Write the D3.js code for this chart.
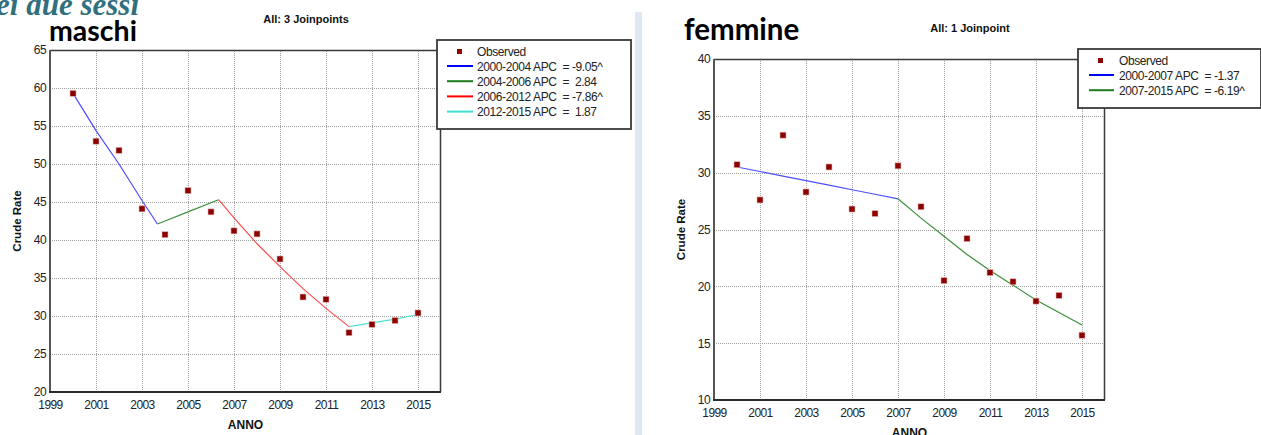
<!DOCTYPE html>
<html>
<head>
<meta charset="utf-8">
<script src="https://cdn.jsdelivr.net/npm/d3@7"></script>
<style>
  body { margin: 0; background: #fff; }
  svg { display: block; }
  text { font-family: "Liberation Sans", Arial, sans-serif; }
</style>
</head>
<body>
<svg id="chart" width="1261" height="435"></svg>
<script>
// Years of observation
const years = [2000, 2001, 2002, 2003, 2004, 2005, 2006, 2007, 2008, 2009, 2010, 2011, 2012, 2013, 2014, 2015];
const xTicks = [1999, 2001, 2003, 2005, 2007, 2009, 2011, 2013, 2015];

// Observed crude rates
const maleObserved   = [59.3, 53.0, 51.8, 44.1, 40.7, 46.5, 43.7, 41.2, 40.8, 37.5, 32.5, 32.2, 27.8, 28.9, 29.4, 30.4];
const femaleObserved = [30.7, 27.6, 33.3, 28.3, 30.5, 26.8, 26.4, 30.6, 27.0, 20.5, 24.2, 21.2, 20.4, 18.7, 19.2, 15.7];

// Joinpoint fitted segments [year, rate]
const maleSeg1 = [[2000, 59.3], [2001, 54.4], [2002, 50.0], [2003, 45.2], [2003.67, 42.1]];
const maleSeg2 = [[2003.67, 42.1], [2004, 42.5], [2005, 43.7], [2006, 44.9], [2006.33, 45.3]];
const maleSeg3 = [[2006.33, 45.3], [2007, 42.9], [2008, 39.5], [2009, 36.5], [2010, 33.6], [2011, 31.0], [2012, 28.6]];
const maleSeg4 = [[2012, 28.6], [2013, 29.1], [2014, 29.6], [2015, 30.2]];

const femaleSeg1 = [[2000, 30.5], [2001, 30.1], [2002, 29.7], [2003, 29.3], [2004, 28.9], [2005, 28.5], [2006, 28.1], [2007, 27.7]];
const femaleSeg2 = [[2007, 27.7], [2008, 26.0], [2009, 24.4], [2010, 22.8], [2011, 21.4], [2012, 20.1], [2013, 18.8], [2014, 17.7], [2015, 16.6]];

// Legend labels
const maleLegend   = ["2000-2004 APC  = -9.05^", "2004-2006 APC  =  2.84", "2006-2012 APC  = -7.86^", "2012-2015 APC  =  1.87"];
const femaleLegend = ["2000-2007 APC  = -1.37", "2007-2015 APC  = -6.19^"];

const maleTicks   = [20, 25, 30, 35, 40, 45, 50, 55, 60, 65];
const femaleTicks = [10, 15, 20, 25, 30, 35, 40];

const segColors = ["#0000ff", "#1e7b1e", "#ff0000", "#40e0d0"];
const lineColors = ["#4d4dff", "#3c8f3c", "#ff4d4d", "#4fe3d6"];

const svg = d3.select("#chart");

// Heading fragment at the very top, partly clipped by the page edge
svg.append("text")
  .attr("x", 139).attr("y", 15)
  .attr("text-anchor", "end")
  .style("font-family", "'Liberation Serif', 'DejaVu Serif', serif")
  .style("font-style", "italic").style("font-weight", "bold")
  .style("font-size", "31px").attr("fill", "#2f6f7e")
  .text("nei due sessi");

// Separator strip between the two panels
svg.append("rect")
  .attr("x", 635).attr("y", 12).attr("width", 7).attr("height", 423)
  .attr("fill", "#dfe7f1");

function panel(cfg) {
  const g = svg.append("g");
  const x = d3.scaleLinear().domain([1999, 2016]).range([cfg.left, cfg.right]);
  const y = d3.scaleLinear().domain(cfg.yDomain).range([cfg.bottom, cfg.top]);

  // Grid
  g.append("g")
    .attr("transform", `translate(0,${cfg.bottom})`)
    .call(d3.axisBottom(x).tickValues(xTicks.slice(1)).tickSize(-(cfg.bottom - cfg.top)).tickFormat(""))
    .call(a => a.select(".domain").remove())
    .call(a => a.selectAll("line").attr("stroke", "#a3a3a3").attr("stroke-dasharray", "1,1").attr("shape-rendering", "crispEdges"));
  g.append("g")
    .attr("transform", `translate(${cfg.left},0)`)
    .call(d3.axisLeft(y).tickValues(cfg.yTicks.slice(1)).tickSize(-(cfg.right - cfg.left)).tickFormat(""))
    .call(a => a.select(".domain").remove())
    .call(a => a.selectAll("line").attr("stroke", "#a3a3a3").attr("stroke-dasharray", "1,1").attr("shape-rendering", "crispEdges"));

  // Frame
  g.append("line").attr("x1", cfg.left).attr("x2", cfg.right).attr("y1", cfg.top + 0.5).attr("y2", cfg.top + 0.5)
    .attr("stroke", "#3a3a3a").attr("stroke-width", 1.3);
  g.append("line").attr("x1", cfg.right - 0.5).attr("x2", cfg.right - 0.5).attr("y1", cfg.top).attr("y2", cfg.bottom)
    .attr("stroke", "#3a3a3a").attr("stroke-width", 1.5);
  g.append("line").attr("x1", cfg.left).attr("x2", cfg.left).attr("y1", cfg.top).attr("y2", cfg.bottom + 1)
    .attr("stroke", "#555").attr("stroke-width", 2);
  g.append("line").attr("x1", cfg.left - 1).attr("x2", cfg.right).attr("y1", cfg.bottom).attr("y2", cfg.bottom)
    .attr("stroke", "#2a2a2a").attr("stroke-width", 2);

  // Tick labels
  g.append("g")
    .attr("transform", `translate(0,${cfg.bottom})`)
    .call(d3.axisBottom(x).tickValues(xTicks).tickSize(0).tickPadding(8).tickFormat(d3.format("d")))
    .call(a => a.select(".domain").remove())
    .call(a => a.selectAll("text").attr("fill", "#222").style("font-size", "12px").style("letter-spacing", "-0.6px")
      .style("font-family", "'Liberation Sans', Arial, sans-serif"));
  g.append("g")
    .attr("transform", `translate(${cfg.left - 2},0)`)
    .call(d3.axisLeft(y).tickValues(cfg.yTicks).tickSize(0).tickPadding(2))
    .call(a => a.select(".domain").remove())
    .call(a => a.selectAll("text").attr("fill", "#222").style("font-size", "12px").style("letter-spacing", "-0.6px")
      .style("font-family", "'Liberation Sans', Arial, sans-serif"));

  // Axis titles
  g.append("text")
    .attr("transform", `translate(${cfg.yLabelX},${(cfg.top + cfg.bottom) / 2}) rotate(-90)`)
    .attr("text-anchor", "middle").style("font-weight", "bold").style("font-size", "11.5px").attr("fill", "#111")
    .text("Crude Rate");
  g.append("text")
    .attr("x", (cfg.left + cfg.right) / 2).attr("y", cfg.bottom + 37)
    .attr("text-anchor", "middle").style("font-weight", "bold").style("font-size", "12px").attr("fill", "#111")
    .text("ANNO");

  // Fitted segments
  const line = d3.line().x(d => x(d[0])).y(d => y(d[1]));
  cfg.segments.forEach((seg, i) => {
    g.append("path").datum(seg).attr("d", line)
      .attr("fill", "none").attr("stroke", lineColors[i]).attr("stroke-width", 1.2);
  });

  // Observed points
  g.selectAll("rect.obs").data(cfg.observed).join("rect")
    .attr("class", "obs")
    .attr("x", (d, i) => x(years[i]) - 3).attr("y", d => y(d) - 3)
    .attr("width", 6).attr("height", 6)
    .attr("fill", "#8b0000").attr("stroke", "#e8b4b4").attr("stroke-width", 0.6);

  // Headings
  g.append("text")
    .attr("x", cfg.headX).attr("y", cfg.headY)
    .style("font-family", "Lato, 'Open Sans', sans-serif").style("font-weight", "bold")
    .style("font-size", cfg.headSize + "px").attr("fill", "#000")
    .text(cfg.heading);
  g.append("text")
    .attr("x", cfg.subX).attr("y", cfg.subY)
    .attr("text-anchor", "middle").style("font-weight", "bold").style("font-size", "11px").attr("fill", "#111")
    .text(cfg.subtitle);

  // Legend
  const L = cfg.legend;
  const lg = g.append("g");
  lg.append("rect").attr("x", L.x).attr("y", L.y).attr("width", L.w).attr("height", L.h)
    .attr("fill", "#fff").attr("stroke", "#3a3a3a").attr("stroke-width", 1.8);
  lg.append("rect").attr("x", L.x + L.markX - 3).attr("y", L.y + 9).attr("width", 5).attr("height", 5)
    .attr("fill", "#8b0000");
  lg.append("text").attr("x", L.x + L.textX).attr("y", L.y + 16)
    .style("font-size", "12px").style("letter-spacing", "-0.4px").attr("fill", "#222").text("Observed");
  cfg.legendLabels.forEach((t, i) => {
    const yy = L.y + 26 + i * 15.2;
    lg.append("line").attr("x1", L.x + L.lineX0).attr("x2", L.x + L.lineX1).attr("y1", yy).attr("y2", yy)
      .attr("stroke", segColors[i]).attr("stroke-width", 2);
    lg.append("text").attr("x", L.x + L.textX).attr("y", yy + 4.5)
      .style("white-space", "pre")
      .style("font-size", "12px").style("letter-spacing", "-0.4px").attr("fill", "#222").text(t);
  });
}

panel({
  left: 50, right: 441, top: 50, bottom: 392,
  yDomain: [20, 65], yTicks: maleTicks, yLabelX: 21,
  observed: maleObserved,
  segments: [maleSeg1, maleSeg2, maleSeg3, maleSeg4],
  heading: "maschi", headX: 49, headY: 41, headSize: 28.5,
  subtitle: "All: 3 Joinpoints", subX: 306, subY: 23,
  legend: { x: 437, y: 40, w: 194, h: 89, markX: 23, textX: 40, lineX0: 10, lineX1: 36 },
  legendLabels: maleLegend
});

panel({
  left: 714, right: 1105, top: 59, bottom: 400,
  yDomain: [10, 40], yTicks: femaleTicks, yLabelX: 685,
  observed: femaleObserved,
  segments: [femaleSeg1, femaleSeg2],
  heading: "femmine", headX: 684, headY: 40, headSize: 29.5,
  subtitle: "All: 1 Joinpoint", subX: 970, subY: 32,
  legend: { x: 1078, y: 49, w: 183, h: 59, markX: 23, textX: 41, lineX0: 11, lineX1: 36 },
  legendLabels: femaleLegend
});
</script>
</body>
</html>
